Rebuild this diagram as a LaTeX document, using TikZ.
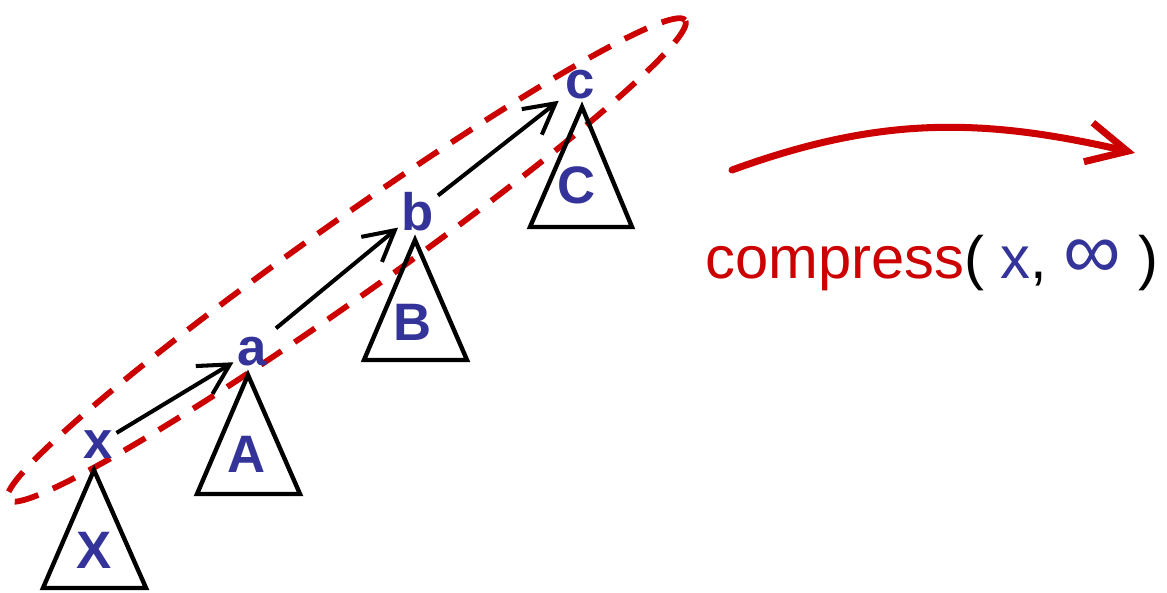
\documentclass[tikz,border=0pt]{standalone}
\usepackage{fontspec}
\setmainfont{Liberation Sans}
\usetikzlibrary{arrows.meta}
\definecolor{ptrblue}{RGB}{51, 51, 153}
\definecolor{ptrred}{RGB}{204, 0, 0}

\begin{document}
\begin{tikzpicture}[x=0.02cm, y=-0.02cm,
    key/.style={text=ptrblue, font=\fontsize{30}{36}\selectfont\bfseries, inner sep=2pt, anchor=base},
    subtree/.style={draw, line width=2.5pt},
    link/.style={-{Straight Barb[length=6mm, width=6.5mm]}, line width=2.3pt},
    path/.style={ptrred, line width=3.3pt, dash pattern=on 14pt off 9pt}]
    \useasboundingbox (0,0) rectangle (1167,592);
    % the find path, circled
    \coordinate (mid) at (346.5,260);
    \draw[path, rotate around={35.3:(mid)}] (mid) ellipse [x radius=8.3cm, y radius=0.76cm];
    % keys on the path
    \node[key] (x) at (98,458) {x};
    \node[key] (a) at (252,365) {a};
    \node[key] (b) at (418,230) {b};
    \node[key] (c) at (580,98) {c};
    % subtrees
    \draw[subtree] (94,470) -- (146,588) -- (43,588) -- cycle;
    \draw[subtree] (248,375) -- (300,494) -- (197,494) -- cycle;
    \draw[subtree] (415,240) -- (467,360) -- (364,360) -- cycle;
    \draw[subtree] (582,107) -- (632,227) -- (530,227) -- cycle;
    \node[key] (X) at (94,568) {X};
    \node[key] (A) at (247,472) {A};
    \node[key] (B) at (413,340) {B};
    \node[key] (C) at (577,203) {C};
    % parent pointers
    \draw[link] (x) -- (a);
    \draw[link, shorten <=4pt] (a.north east) -- (b);
    \draw[link, shorten >=2pt] (b) -- (c);
    % the call
    \coordinate (from) at (732,170);
    \coordinate (to) at (1135,153);
    \draw[-{Straight Barb[length=8mm, width=8mm]}, ptrred, line width=4pt, line cap=round] (from) to[out=20, in=167] (to);
    \node[anchor=base west, inner sep=0pt, font=\fontsize{34}{40}\selectfont] (call) at (705,278)
        {{\color{ptrred}compress}(\ {\color{ptrblue}x},\ {\color{ptrblue}\fontsize{46}{46}\selectfont ∞}\ )};
\end{tikzpicture}
\end{document}
